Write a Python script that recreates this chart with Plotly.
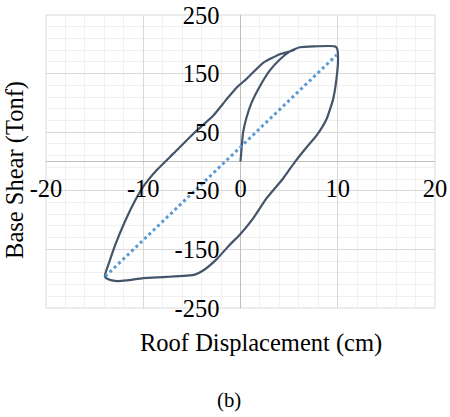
import plotly.graph_objects as go

# Hysteresis loop (roof displacement cm, base shear tonf)
loop_x = [0, 0.1, 0.27, 0.62, 1.13, 1.98, 3.0, 4.04, 5.0, 5.6, 6.1, 7.5, 9.7, 9.93, 10.03,
          9.86, 9.52, 8.84, 7.81, 6.78, 5.58, 4.38, 2.67, 1.3, -0.07, -1.1, -2.47, -3.84,
          -4.7, -7.6, -10.0, -11.7, -12.7, -13.6, -13.95, -13.5, -12.8, -11.95, -11.1,
          -10.0, -8.63, -6.93, -4.87, -2.82, -1.44, -0.41, 0.62, 2.3, 4.04, 5.24, 5.6]
loop_y = [0, 21, 50, 75, 100, 128, 155, 174, 187, 192, 195, 196.5, 196.5, 193, 175,
          140, 106, 72, 44, 24, -1, -29, -63, -97, -125, -142, -167, -186,
          -193, -197, -199, -203, -204, -201, -196, -172, -139, -105, -75,
          -43, -15, 13, 47, 78, 106, 126, 141, 168, 183, 188.5, 191]

# Dotted linear fit
fit_x = [-13.9, 9.9]
fit_y = [-196, 182]

x_range = [-20, 20]
y_range = [-250, 250]
x_tickvals = [-20, -10, 0, 10, 20]
x_ticktext = ["-20", "-10", "0", "10", "20"]
y_tickvals = [-250, -150, -50, 50, 150, 250]
y_ticktext = ["-250", "-150", "-50", "50", "150", "250"]
x_minor_tick0, x_minor = -20, 2
y_minor_tick0, y_minor = -250, 20

font_family = "Liberation Serif"
fs = 24.5

fig = go.Figure()
fig.add_trace(go.Scatter(x=loop_x, y=loop_y, mode="lines",
                         line=dict(color="#44546A", width=2.2, shape="spline", smoothing=0.5),
                         showlegend=False, hoverinfo="skip"))
fig.add_trace(go.Scatter(x=fit_x, y=fit_y, mode="lines",
                         line=dict(color="#5B9BD5", width=3, dash="dot"),
                         showlegend=False, hoverinfo="skip"))

fig.update_layout(
    width=450, height=417,
    margin=dict(l=46, r=15, t=15, b=109),
    paper_bgcolor="white", plot_bgcolor="white",
    font=dict(family=font_family, size=fs, color="black"),
    xaxis=dict(range=x_range, tickmode="array", tickvals=x_tickvals, ticktext=x_ticktext,
               showgrid=True, gridcolor="#D9D9D9", gridwidth=1,
               minor=dict(dtick=x_minor, tick0=x_minor_tick0, showgrid=True, gridcolor="#F0F0F0", gridwidth=1),
               zeroline=True, zerolinecolor="#BFBFBF", zerolinewidth=1.3,
               showline=False, ticks="", anchor="free", position=0.5, automargin=False,
               ticklabelstandoff=10, tickfont=dict(size=fs, family=font_family)),
    yaxis=dict(range=y_range, tickmode="array", tickvals=y_tickvals, ticktext=y_ticktext,
               showgrid=True, gridcolor="#D9D9D9", gridwidth=1,
               minor=dict(dtick=y_minor, tick0=y_minor_tick0, showgrid=True, gridcolor="#F0F0F0", gridwidth=1),
               zeroline=True, zerolinecolor="#BFBFBF", zerolinewidth=1.3,
               showline=False, ticks="", anchor="free", position=0.5, automargin=False,
               ticklabelstandoff=21, tickfont=dict(size=fs, family=font_family)),
    shapes=[dict(type="rect", xref="paper", yref="paper", x0=0, y0=0, x1=1, y1=1,
                 line=dict(color="#D9D9D9", width=1), layer="below")],
    annotations=[
        dict(text="Base Shear (Tonf)", xref="paper", yref="paper", x=-0.08, y=0.471,
             textangle=-90, showarrow=False, font=dict(size=fs, family=font_family),
             xanchor="center", yanchor="middle"),
        dict(text="Roof Displacement (cm)", xref="paper", yref="paper", x=0.553, y=-0.119,
             showarrow=False, font=dict(size=fs, family=font_family),
             xanchor="center", yanchor="middle"),
        dict(text="(b)", xref="paper", yref="paper", x=0.470, y=-0.314,
             showarrow=False, font=dict(size=fs * 0.85, family=font_family),
             xanchor="center", yanchor="middle"),
    ],
)

fig.write_html("out.html", config={"displayModeBar": False},
               post_script="document.body.style.margin='0';document.body.style.overflow='hidden';")
